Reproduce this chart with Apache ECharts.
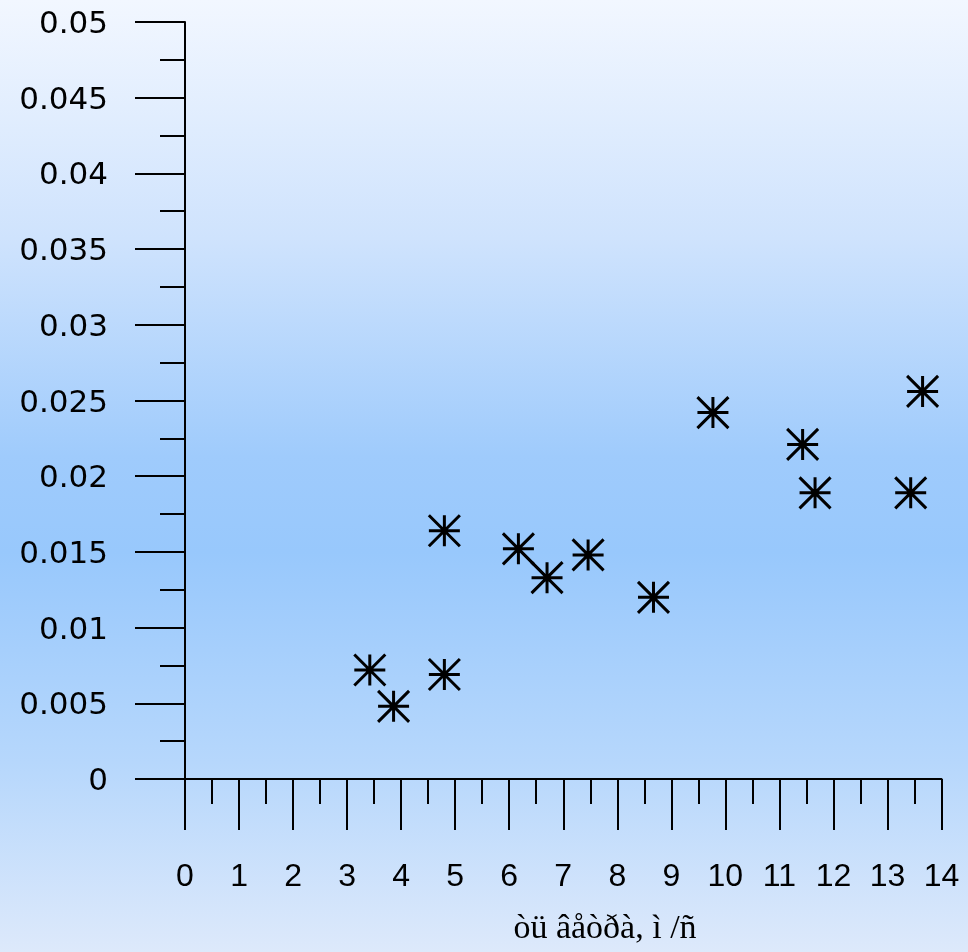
<!DOCTYPE html>
<html>
<head>
<meta charset="utf-8">
<script src="https://cdn.jsdelivr.net/npm/echarts@6/dist/echarts.min.js"></script>
<style>
  html, body { margin: 0; padding: 0; }
  #chart {
    width: 968px; height: 952px;
    background: linear-gradient(to bottom, #f2f7ff 0%, #cfe3fd 25%, #9fcbfc 48%, #98c8fc 58%, #b6d7fc 80%, #dde9fb 100%);
  }
</style>
</head>
<body>
<div id="chart"></div>
<script>
// Wind speed (x) against measured value (y)
const windSpeed = [3.42, 3.86, 4.8, 4.8, 6.17, 6.7, 7.46, 8.67, 9.77, 11.43, 11.66, 13.43, 13.65];
const measured  = [0.0072, 0.0048, 0.0069, 0.0164, 0.0152, 0.0133, 0.0148, 0.012, 0.0242, 0.0221, 0.0189, 0.0189, 0.0256];
// indices of the two points joined by a segment
const joined = [4, 5];
const xTitle = 'òü âåòðà, ì /ñ';

const points = windSpeed.map((x, i) => [x, measured[i]]);
const segment = joined.map(i => points[i]);

// eight-armed asterisk marker
const asterisk = 'path://M0 -1 L0 1 M-1 0 L1 0 M-1 -1 L1 1 M-1 1 L1 -1';

const chart = echarts.init(document.getElementById('chart'));
const tickStyle = { color: '#000', width: 2 };

chart.setOption({
  animation: false,
  grid: { left: 185, top: 22, right: 26.5, bottom: 173 },
  xAxis: {
    type: 'value', min: 0, max: 14, interval: 1,
    axisLine: { show: true, onZero: false, lineStyle: tickStyle },
    axisTick: { show: true, length: 51, lineStyle: tickStyle },
    minorTick: { show: true, splitNumber: 2, length: 25, lineStyle: tickStyle },
    axisLabel: { margin: 82, fontFamily: 'Liberation Sans, Arial, sans-serif', fontSize: 32, color: '#000' },
    splitLine: { show: false }
  },
  yAxis: {
    type: 'value', min: 0, max: 0.05, interval: 0.005,
    axisLine: { show: true, onZero: false, lineStyle: tickStyle },
    axisTick: { show: true, length: 50, lineStyle: tickStyle },
    minorTick: { show: true, splitNumber: 2, length: 25, lineStyle: tickStyle },
    axisLabel: {
      margin: 77, formatter: '{v|{value}}',
      rich: { v: { fontFamily: 'DejaVu Sans, sans-serif', fontSize: 31, color: '#000', padding: [6, 0, 0, 0] } }
    },
    splitLine: { show: false }
  },
  graphic: [{
    type: 'text', x: 605, y: 929,
    style: {
      text: xTitle, textAlign: 'center', textVerticalAlign: 'middle',
      fontFamily: 'Liberation Serif, Times New Roman, serif', fontSize: 34, fill: '#000'
    }
  }],
  series: [
    {
      type: 'line', data: segment, symbol: 'none',
      lineStyle: { color: '#000', width: 2.5 }
    },
    {
      type: 'scatter', data: points, symbol: asterisk, symbolSize: 31,
      itemStyle: { color: 'none', borderColor: '#000', borderWidth: 3, opacity: 1 }
    }
  ]
});
</script>
</body>
</html>
